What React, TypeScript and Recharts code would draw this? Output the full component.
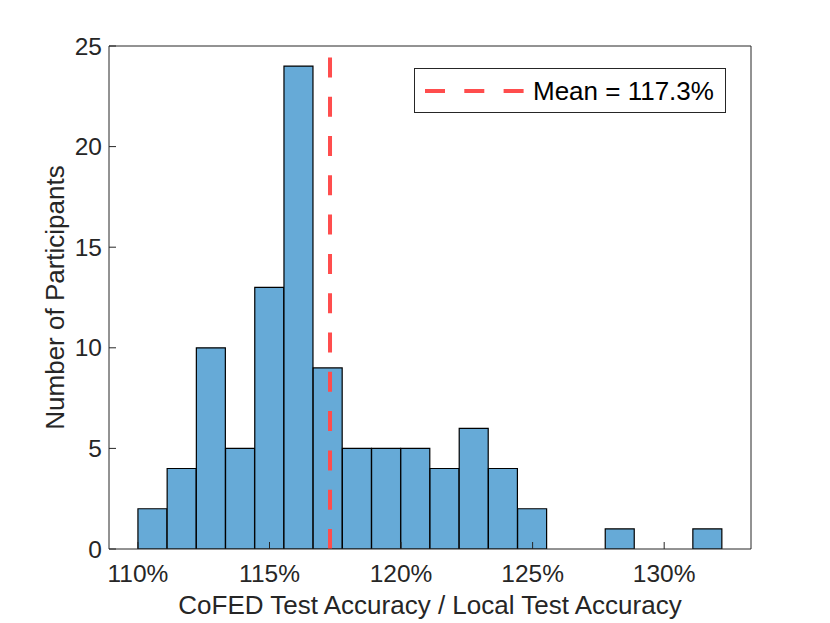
import {
  ComposedChart,
  Bar,
  XAxis,
  YAxis,
  ReferenceLine,
  Legend,
} from "recharts";

// histogram bin edges (ratio in %), 20 bins
const binEdges = [
  110.0, 111.11, 112.22, 113.33, 114.44, 115.55, 116.66, 117.77, 118.88, 119.99,
  121.1, 122.21, 123.32, 124.43, 125.54, 126.65, 127.76, 128.87, 129.98, 131.09,
  132.2,
];
const participantCounts = [
  2, 4, 10, 5, 13, 24, 9, 5, 5, 5, 4, 6, 4, 2, 0, 0, 1, 0, 0, 1,
];
const xTicks = [110, 115, 120, 125, 130];
const yTicks = [0, 5, 10, 15, 20, 25];
const xDomain = [108.9, 133.3];
const yDomain = [0, 25];
const meanRatio = 117.3;

const histogram = participantCounts.map((count, i) => ({
  center: (binEdges[i] + binEdges[i + 1]) / 2,
  count,
}));

const AXIS = "#262626";
const RED = "#FF4D4D";

const renderLegend = () => (
  <div
    style={{
      boxSizing: "border-box",
      width: 312,
      height: 45,
      border: "1px solid #262626",
      background: "#fff",
      display: "flex",
      alignItems: "center",
    }}
  >
    <svg width={118} height={43} style={{ flex: "none" }}>
      <line
        x1={10}
        x2={110}
        y1={22}
        y2={22}
        stroke={RED}
        strokeWidth={4}
        strokeDasharray="20 19.3"
      />
    </svg>
    <span style={{ fontSize: 26, color: "#000", lineHeight: 1 }}>
      {`Mean = ${meanRatio}%`}
    </span>
  </div>
);

const App = () => {
  return (
    <div
      style={{
        position: "absolute",
        left: 0,
        top: 0,
        width: 830,
        height: 623,
        background: "#fff",
        fontFamily: "'Liberation Sans', Arial, sans-serif",
      }}
    >
      <ComposedChart
        width={830}
        height={623}
        data={histogram}
        margin={{ top: 36, right: 69, bottom: 4, left: 1 }}
        barCategoryGap={0}
        barGap={0}
      >
        <XAxis
          type="number"
          dataKey="center"
          domain={xDomain}
          allowDataOverflow
          ticks={xTicks}
          interval={0}
          tickFormatter={(v) => `${v}%`}
          tickSize={-7}
          tickMargin={23}
          height={70}
          stroke={AXIS}
          tick={{ fill: AXIS, fontSize: 24.5 }}
          label={{
            value: "CoFED Test Accuracy / Local Test Accuracy",
            position: "insideBottom",
            offset: 5,
            fill: AXIS,
            fontSize: 26,
          }}
        />
        <XAxis
          xAxisId="top"
          orientation="top"
          type="number"
          domain={xDomain}
          allowDataOverflow
          ticks={xTicks}
          interval={0}
          tick={false}
          tickSize={-7}
          height={10}
          stroke={AXIS}
        />
        <YAxis
          type="number"
          domain={yDomain}
          allowDataOverflow
          ticks={yTicks}
          interval={0}
          tickSize={-7}
          tickMargin={14}
          width={108}
          stroke={AXIS}
          tick={{ fill: AXIS, fontSize: 24.5 }}
          label={{
            value: "Number of Participants",
            angle: -90,
            position: "center",
            fill: AXIS,
            fontSize: 26,
          }}
        />
        <YAxis
          yAxisId="right"
          orientation="right"
          type="number"
          domain={yDomain}
          allowDataOverflow
          ticks={yTicks}
          interval={0}
          tick={false}
          tickSize={-7}
          width={10}
          stroke={AXIS}
        />
        <Bar
          dataKey="count"
          fill="#66AAD7"
          stroke="#000"
          strokeWidth={1.2}
          isAnimationActive={false}
        />
        <ReferenceLine
          x={meanRatio}
          stroke={RED}
          strokeWidth={4}
          strokeDasharray="20 19.3"
        />
        <Legend
          layout="vertical"
          align="center"
          verticalAlign="middle"
          wrapperStyle={{ left: 414, top: 68, width: 312, height: 45 }}
          content={renderLegend}
        />
      </ComposedChart>
    </div>
  );
};

export default App;
